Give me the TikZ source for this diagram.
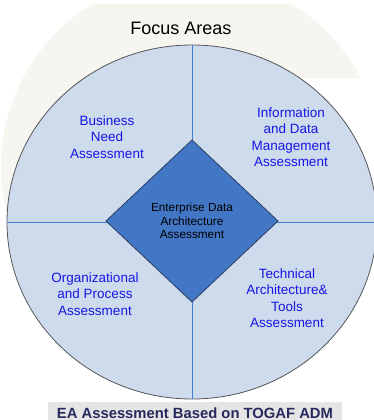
\documentclass[tikz,border=0pt]{standalone}
\usepackage{fontspec}
\setmainfont{Liberation Sans}
\usetikzlibrary{shapes.geometric}
\definecolor{beigeBg}{RGB}{247,245,239}
\definecolor{circFill}{RGB}{205,219,237}
\definecolor{circEdge}{RGB}{85,85,90}
\definecolor{divLine}{RGB}{70,125,210}
\definecolor{diaFill}{RGB}{66,119,198}
\definecolor{diaEdge}{RGB}{45,60,95}
\definecolor{lblBlue}{RGB}{22,22,230}
\definecolor{barGray}{RGB}{229,229,229}
\definecolor{navy}{RGB}{38,42,92}
\tikzset{
  area/.style={text=lblBlue, align=center, inner sep=0pt, font=\fontsize{13.5}{16.5}\selectfont},
  divider/.style={draw=divLine, line width=0.9pt},
}
\begin{document}
\begin{tikzpicture}[x=1pt,y=-1pt]
\useasboundingbox (0,0) rectangle (374,420);
\clip (0,0) rectangle (374,420);
% faint background
\begin{scope}
  \clip (0,5) rectangle (374,420);
  \fill[beigeBg] (192,167) circle (191);
\end{scope}
\fill[white] (250,78) rectangle (374,420);
% main circle
\node[ellipse, draw=circEdge, fill=circFill, line width=0.8pt, inner sep=0pt, outer sep=0pt,
      minimum width=370pt, minimum height=354pt] (circ) at (192,222) {};
\draw[divider] (circ.north) -- (circ.south);
\draw[divider] (circ.west) -- (circ.east);
% center diamond
\node[diamond, draw=diaEdge, fill=diaFill, line width=0.8pt, inner sep=0pt, outer sep=0pt,
      minimum width=172pt, minimum height=162pt, align=center,
      font=\fontsize{11.8}{13.6}\selectfont] (core) at (192,221)
      {Enterprise Data\\Architecture\\Assessment};
% title
\node[font=\fontsize{18}{20}\selectfont, inner sep=0pt] (title) at (181,28) {Focus Areas};
% quadrant labels
\node[area] (bus) at (107,137) {Business\\Need\\Assessment};
\node[area] (info) at (291,137) {Information\\and Data\\Management\\Assessment};
\node[area] (org) at (95,294) {Organizational\\and Process\\Assessment};
\node[area] (tech) at (287,298) {Technical\\Architecture\&\\Tools\\Assessment};
% bottom caption
\node[fill=barGray, minimum width=294pt, minimum height=22pt, inner sep=0pt,
      font=\bfseries\fontsize{14.8}{16}\selectfont, text=navy] (cap) at (195,413)
      {EA Assessment Based on TOGAF ADM};
\end{tikzpicture}
\end{document}
